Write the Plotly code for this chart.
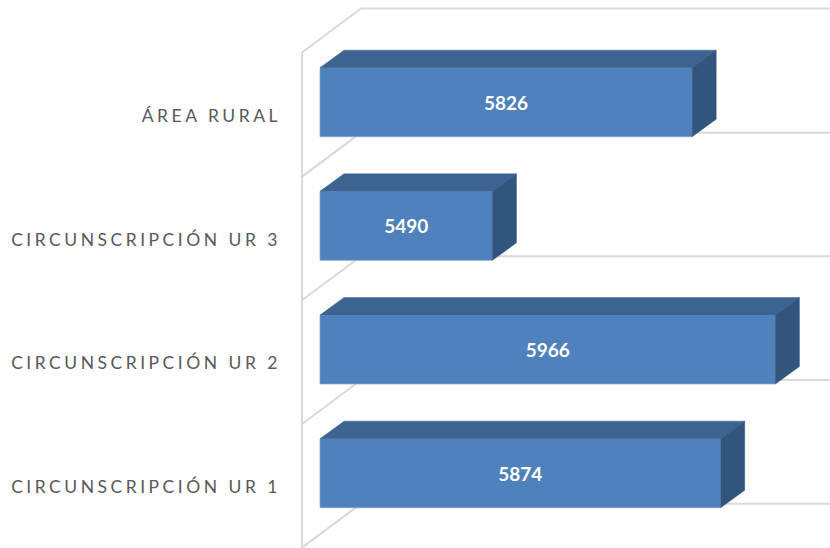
import plotly.graph_objects as go

categories = ["CIRCUNSCRIPCIÓN UR 1", "CIRCUNSCRIPCIÓN UR 2", "CIRCUNSCRIPCIÓN UR 3", "ÁREA RURAL"]
values = [5874, 5966, 5490, 5826]
base_value = 5200

FRONT = "#4F81BD"
TOP = "#3D6391"
SIDE = "#32557D"
GRID = "#D9D9D9"

PX_X = 0.5945      # pixels per value unit
PX_Y = 123.67      # pixels per category slot
L_MARGIN = 290
x0 = base_value - (320 - L_MARGIN) / PX_X
x1 = x0 + (830 - L_MARGIN) / PX_X
y0 = -(548 - 473.2) / PX_Y
y1 = 473.2 / PX_Y

bar_w = 69 / PX_Y
bar_dx = 24 / PX_X
bar_dy = 17.5 / PX_Y
wall_x = base_value - 18 / PX_X
wall_dx = 59 / PX_X
wall_dy = 44 / PX_Y

ys = list(range(len(categories)))
fig = go.Figure()

fig.add_trace(go.Bar(
    y=ys, x=[v - base_value for v in values], base=base_value, orientation="h", width=bar_w,
    marker=dict(color=FRONT, line=dict(color="#7FA3D0", width=0.7)),
    text=[str(v) for v in values], textposition="inside", insidetextanchor="middle",
    textangle=0, insidetextfont=dict(family="Lato", size=19, color="white", weight="bold"),
    constraintext="none", hoverinfo="skip", showlegend=False))

for i, v in zip(ys, values):
    t, b = i + bar_w / 2, i - bar_w / 2
    fig.add_trace(go.Scatter(
        x=[base_value, v, v + bar_dx, base_value + bar_dx, base_value],
        y=[t, t, t + bar_dy, t + bar_dy, t],
        mode="lines", fill="toself", fillcolor=TOP, line=dict(color=TOP, width=0.5),
        hoverinfo="skip", showlegend=False))
    fig.add_trace(go.Scatter(
        x=[v, v + bar_dx, v + bar_dx, v, v],
        y=[t, t + bar_dy, b + bar_dy, b, t],
        mode="lines", fill="toself", fillcolor=SIDE, line=dict(color=SIDE, width=0.5),
        hoverinfo="skip", showlegend=False))

shapes = []
def seg(xa, ya, xb, yb):
    shapes.append(dict(type="line", xref="x", yref="y", x0=xa, y0=ya, x1=xb, y1=yb,
                       layer="below", line=dict(color=GRID, width=2)))

n = len(categories)
seg(wall_x, -0.602, wall_x, n - 0.598)
for k in range(n + 1):
    yy = k - 0.602 if k < n else n - 0.598
    seg(wall_x, yy, wall_x + wall_dx, yy + wall_dy)
    seg(wall_x + wall_dx, yy + wall_dy, x1, yy + wall_dy)

fig.update_layout(
    width=830, height=548, autosize=False,
    margin=dict(l=L_MARGIN, r=0, t=0, b=0),
    paper_bgcolor="white", plot_bgcolor="white", shapes=shapes,
    font=dict(family="Lato", color="#595959"),
    xaxis=dict(range=[x0, x1], showgrid=False, zeroline=False, showticklabels=False, showline=False, ticks=""),
    yaxis=dict(range=[y0, y1], showgrid=False, zeroline=False, showline=False, ticks="",
               tickmode="array", tickvals=[i - 0.11 for i in ys], ticktext=categories,
               ticklabelstandoff=8, tickfont=dict(family="Lato", size=17.5, color="#595959")),
)

post = """
document.body.style.margin='0';
var s=document.createElement('style');
s.textContent='.ytick text{letter-spacing:3.5px}';
document.head.appendChild(s);
"""
fig.write_html("out.html", post_script=post, config={"displayModeBar": False})
